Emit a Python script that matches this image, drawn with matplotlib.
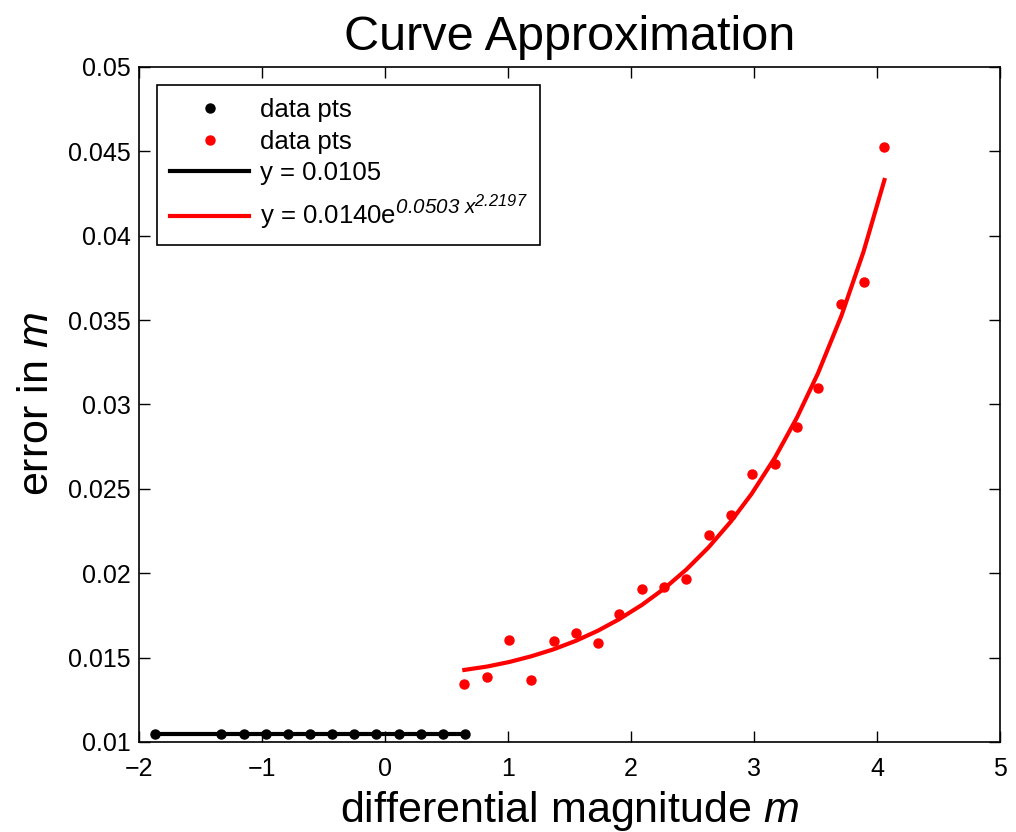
import matplotlib
matplotlib.use("Agg")
import matplotlib.pyplot as plt
import matplotlib._mathtext as mt

plt.rcParams["font.family"] = ["Liberation Sans", "DejaVu Sans"]
plt.rcParams["mathtext.fontset"] = "custom"
plt.rcParams["mathtext.rm"] = "Liberation Sans"
plt.rcParams["mathtext.it"] = "Liberation Sans:italic"
plt.rcParams["mathtext.sf"] = "Liberation Sans:italic"
plt.rcParams["axes.unicode_minus"] = True
# bigger superscripts, closer to the original legend
if hasattr(mt, "SHRINK_FACTOR"):
    mt.SHRINK_FACTOR = 0.8

# black data (constant fit)
black_x = [-1.87, -1.33, -1.15, -0.97, -0.79, -0.61, -0.43, -0.25, -0.07, 0.11, 0.29, 0.47, 0.65]
black_y = [0.0105] * len(black_x)
black_fit = 0.0105

# red data
red_x = [0.645, 0.83, 1.01, 1.19, 1.37, 1.55, 1.73, 1.90, 2.09, 2.27,
         2.45, 2.63, 2.81, 2.98, 3.17, 3.35, 3.52, 3.71, 3.89, 4.06]
red_y = [0.01344, 0.01386, 0.01605, 0.01368, 0.01600, 0.01647, 0.01588, 0.01760, 0.01908, 0.01920,
         0.01967, 0.02228, 0.02347, 0.02590, 0.02650, 0.02864, 0.03095, 0.03593, 0.03724, 0.04525]
# fitted curve
red_fit = [0.01427, 0.01447, 0.01474, 0.01508, 0.01549, 0.01599, 0.01659, 0.01726, 0.01813, 0.01909,
           0.02022, 0.02153, 0.02305, 0.02470, 0.02685, 0.02924, 0.03185, 0.03525, 0.03905, 0.04330]

fig = plt.figure(figsize=(10.16, 8.32), dpi=100)
ax = fig.add_axes([0.1368, 0.1082, 0.8475, 0.8113])

ax.plot(black_x, black_y, "o", color="black", markersize=6.5, label="data pts")
ax.plot(red_x, red_y, "o", color="red", markersize=6.5, label="data pts")
ax.plot([black_x[0], black_x[-1]], [black_fit, black_fit], color="black", lw=3, label="y = 0.0105")
ax.plot(red_x, red_fit, color="red", lw=3,
        label=r"y = 0.0140$\mathrm{e}^{\mathsf{0.0503}\ \mathsf{x}^{\mathsf{2.2197}}}$")

ax.set_xlim(-2, 5)
ax.set_ylim(0.01, 0.05)
ax.set_xticks(range(-2, 6))
ax.set_yticks([0.01, 0.015, 0.02, 0.025, 0.03, 0.035, 0.04, 0.045, 0.05])
ax.set_yticklabels(["0.01", "0.015", "0.02", "0.025", "0.03", "0.035", "0.04", "0.045", "0.05"])
ax.tick_params(direction="in", top=True, right=True, labelsize=18, length=8, width=1)
ax.tick_params(axis="y", pad=6)
ax.tick_params(axis="x", pad=11)
for s in ax.spines.values():
    s.set_linewidth(1.2)

ax.set_title("Curve Approximation", fontsize=35, pad=12)
ax.set_xlabel("differential magnitude $m$", fontsize=31)
ax.xaxis.set_label_coords(0.5, -0.119)
ax.xaxis.label.set_verticalalignment("baseline")
ax.set_ylabel("error in $m$", fontsize=31, labelpad=8)

leg = ax.legend(loc="upper left", fontsize=18.5, fancybox=False, framealpha=1,
                edgecolor="black", handlelength=3.1, borderaxespad=0.7, borderpad=0.5,
                labelspacing=0.3, handletextpad=0.4)
leg.get_frame().set_linewidth(1.2)

fig.savefig("out.png", dpi=100)
